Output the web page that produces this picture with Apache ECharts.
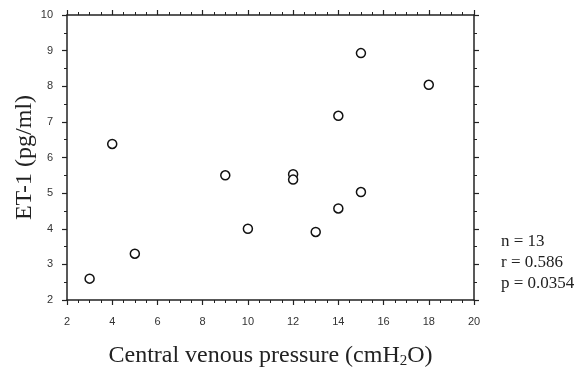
<!DOCTYPE html>
<html><head><meta charset="utf-8">
<script src="https://cdn.jsdelivr.net/npm/echarts@6/dist/echarts.min.js"></script>
<style>html,body{margin:0;padding:0;background:#fff}#c{width:578px;height:367px}</style>
</head><body><div id="c"></div>
<script>
const cvp = [3, 5, 4, 9, 10, 12, 12, 13, 14, 15, 14, 15, 18];
const et1 = [2.6, 3.3, 6.38, 5.5, 4.0, 5.53, 5.38, 3.91, 4.57, 5.03, 7.17, 8.93, 8.04];
const xTicks = [2, 4, 6, 8, 10, 12, 14, 16, 18, 20];
const yTicks = [2, 3, 4, 5, 6, 7, 8, 9, 10];
const stats = ['n = 13', 'r = 0.586', 'p = 0.0354'];

const points = cvp.map((x, i) => [x, et1[i]]);
const lineCol = '#222';
const tickLabel = { color: '#333', fontFamily: 'Liberation Sans, Arial, sans-serif', fontSize: 11 };
function axisBase(extra) {
  return Object.assign({
    axisLine: { show: true, onZero: false, lineStyle: { color: lineCol, width: 1.5 } },
    axisTick: { show: true, inside: false, length: 5, lineStyle: { color: lineCol, width: 1.2 } },
    minorTick: { show: true, length: 3, lineStyle: { color: lineCol, width: 1 } },
    splitLine: { show: false },
    minorSplitLine: { show: false }
  }, extra);
}
const chart = echarts.init(document.getElementById('c'), null, { renderer: 'canvas' });
chart.setOption({
  animation: false,
  grid: { left: 67, right: 104, top: 15, bottom: 67, containLabel: false, outerBoundsMode: 'none' },
  xAxis: [
    axisBase({ type: 'value', position: 'bottom', min: xTicks[0], max: xTicks[xTicks.length - 1], interval: 2,
      minorTick: { show: true, splitNumber: 4, length: 3, lineStyle: { color: lineCol, width: 1 } },
      axisLabel: Object.assign({ margin: 16 }, tickLabel),
      name: 'Central venous pressure (cmH{sub|2}O)', nameLocation: 'middle', nameGap: 42,
      nameTextStyle: { fontFamily: 'Liberation Serif, Times New Roman, serif', fontSize: 24, color: '#222',
        rich: { sub: { fontFamily: 'Liberation Serif, serif', fontSize: 15, verticalAlign: 'bottom', padding: [12, 0, 0, 0], color: '#222' } } } }),
    axisBase({ type: 'value', position: 'top', min: xTicks[0], max: xTicks[xTicks.length - 1], interval: 2,
      minorTick: { show: true, splitNumber: 4, length: 3, lineStyle: { color: lineCol, width: 1 } },
      axisLabel: { show: false } })
  ],
  yAxis: [
    axisBase({ type: 'value', position: 'left', min: yTicks[0], max: yTicks[yTicks.length - 1], interval: 1,
      minorTick: { show: true, splitNumber: 2, length: 3, lineStyle: { color: lineCol, width: 1 } },
      axisLabel: Object.assign({ margin: 14 }, tickLabel),
      name: 'ET-1 (pg/ml)', nameLocation: 'middle', nameGap: 30, nameRotate: 90, nameMoveOverlap: false,
      nameTextStyle: { fontFamily: 'Liberation Serif, Times New Roman, serif', fontSize: 24, color: '#222' } }),
    axisBase({ type: 'value', position: 'right', min: yTicks[0], max: yTicks[yTicks.length - 1], interval: 1,
      minorTick: { show: true, splitNumber: 2, length: 3, lineStyle: { color: lineCol, width: 1 } },
      axisLabel: { show: false } })
  ],
  series: [{
    type: 'scatter', xAxisIndex: 0, yAxisIndex: 0, data: points,
    symbol: 'circle', symbolSize: 9,
    itemStyle: { color: '#fff', borderColor: '#111', borderWidth: 1.5, opacity: 1 }
  }],
  graphic: stats.map((t, i) => ({
    type: 'text', left: 501, top: 233 + i * 21,
    style: { text: t, fontFamily: 'Liberation Serif, Times New Roman, serif', fontSize: 17, fill: '#222' }
  }))
});
</script></body></html>
